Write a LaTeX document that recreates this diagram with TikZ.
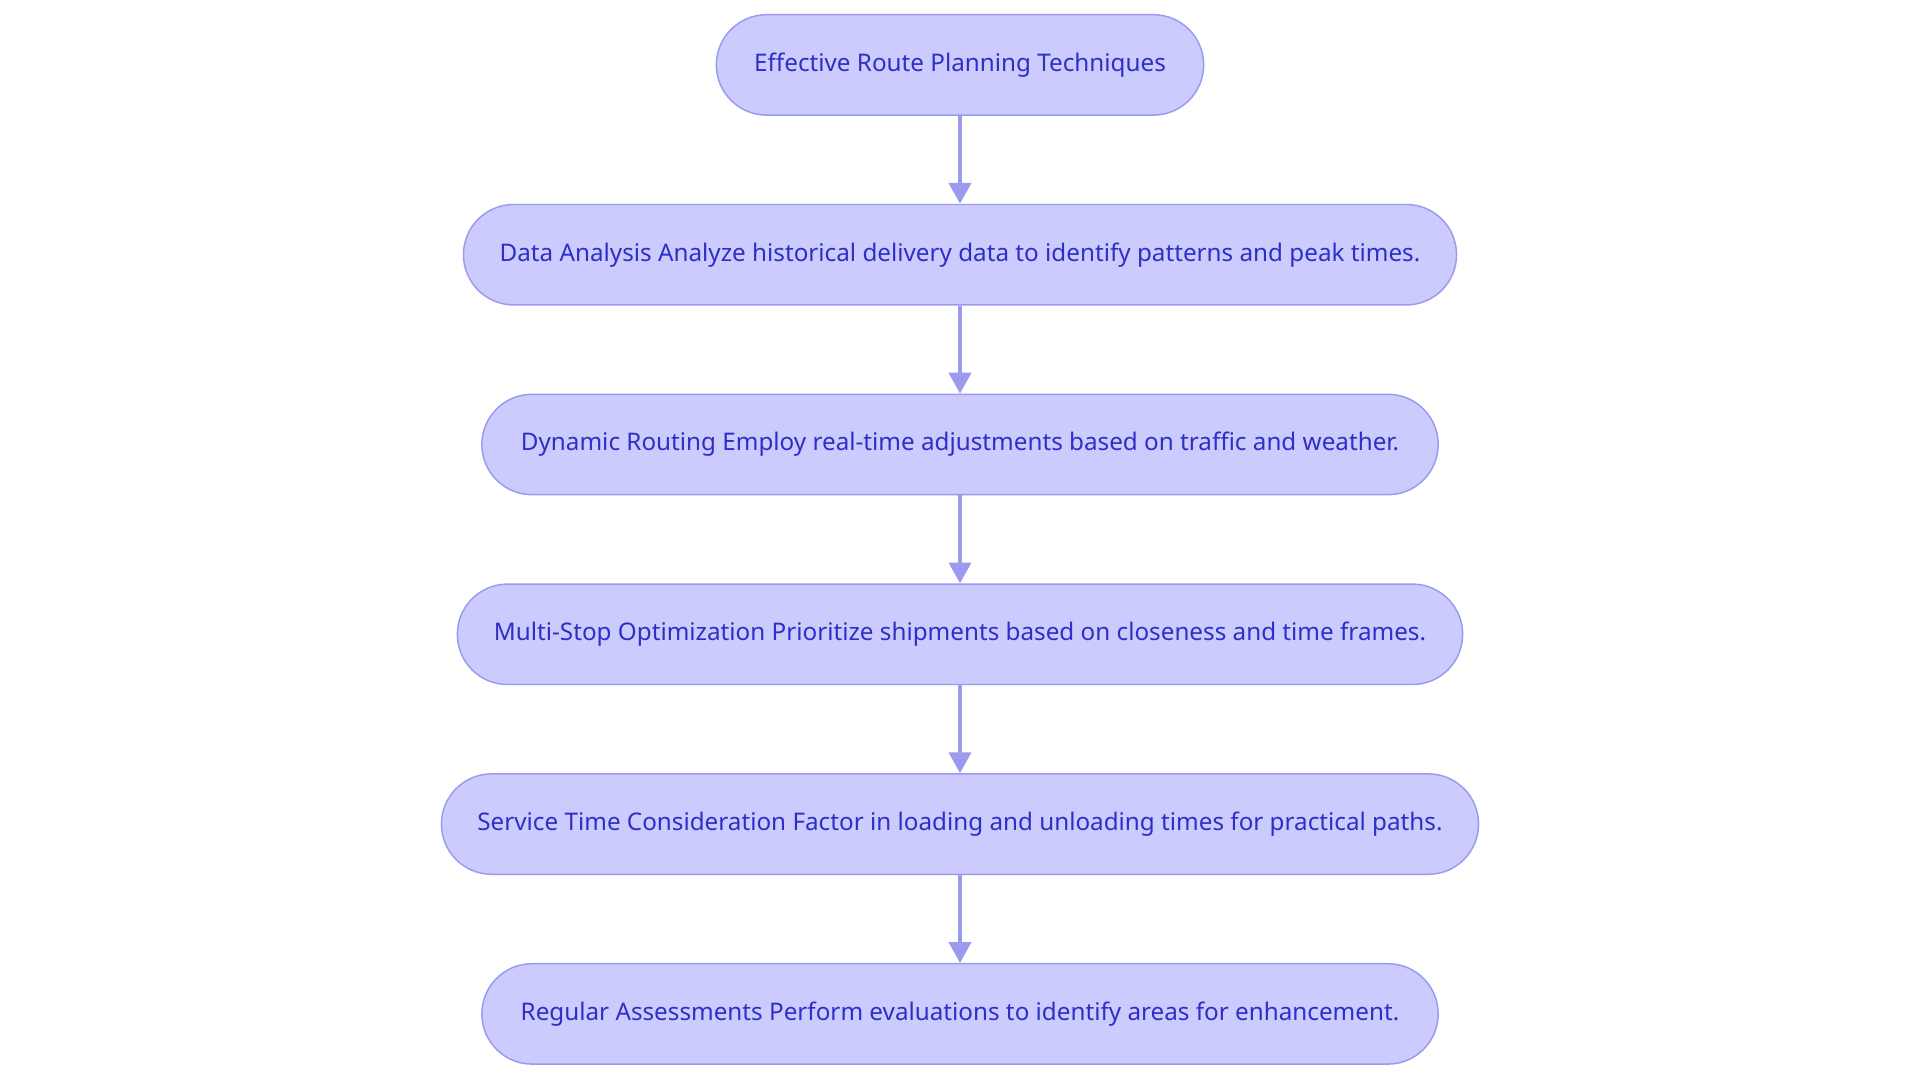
\documentclass[tikz,border=0pt]{standalone}
\usepackage{fontspec}
\setmainfont{Noto Sans}
\usetikzlibrary{arrows.meta}
\definecolor{nfill}{HTML}{CBCBFD}
\definecolor{nline}{HTML}{9A9AEE}
\definecolor{ntext}{HTML}{2E2EC8}
\begin{document}
\begin{tikzpicture}[x=0.5pt,y=-0.5pt,
  box/.style={draw=nline,fill=nfill,line width=0.6pt,rounded corners=20.5pt,minimum height=41pt,text=ntext,font=\fontsize{9.9pt}{12pt}\selectfont,inner sep=0pt},
  arr/.style={draw=nline,line width=1.5pt,-{Triangle[length=8.5pt,width=9pt]}}]
\useasboundingbox (0,0) rectangle (1568,884);
\node[box,minimum width=199pt] (n1) at (784,53) {Effective Route Planning Techniques};
\node[box,minimum width=405.5pt] (n2) at (784,208) {Data Analysis Analyze historical delivery data to identify patterns and peak times.};
\node[box,minimum width=390.5pt] (n3) at (784,363) {Dynamic Routing Employ real-time adjustments based on traffic and weather.};
\node[box,minimum width=410.5pt] (n4) at (784,518) {Multi-Stop Optimization Prioritize shipments based on closeness and time frames.};
\node[box,minimum width=423.5pt] (n5) at (784,673) {Service Time Consideration Factor in loading and unloading times for practical paths.};
\node[box,minimum width=390.5pt] (n6) at (784,828) {Regular Assessments Perform evaluations to identify areas for enhancement.};
\foreach \a/\b in {n1/n2,n2/n3,n3/n4,n4/n5,n5/n6}
  \draw[arr] (\a) -- (\b);
\end{tikzpicture}
\end{document}
